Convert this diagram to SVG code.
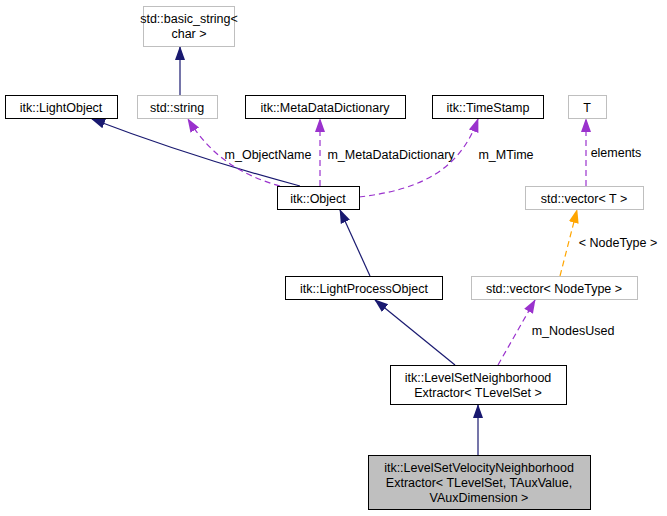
<svg xmlns="http://www.w3.org/2000/svg" width="667" height="516" viewBox="0 0 667 516">
<style>
text{font-family:"Liberation Sans",Arial,sans-serif;font-size:12.5px;fill:#000;text-anchor:middle}
.n{fill:#fff;stroke:#000;stroke-width:1}
.g{fill:#fff;stroke:#bfbfbf;stroke-width:1}
.s{fill:none;stroke:#191970;stroke-width:1.2}
.p{fill:none;stroke:#9a32cd;stroke-width:1.2;stroke-dasharray:6,4}
.o{fill:none;stroke:#ffa500;stroke-width:1.2;stroke-dasharray:6,4}
</style>
<defs>
<marker id="as" markerWidth="14" markerHeight="12" refX="13" refY="6" orient="auto" markerUnits="userSpaceOnUse"><path d="M0,1L14,6L0,11z" fill="#191970"/></marker>
<marker id="ap" markerWidth="14" markerHeight="12" refX="13" refY="6" orient="auto" markerUnits="userSpaceOnUse"><path d="M0,1L14,6L0,11z" fill="#9a32cd"/></marker>
<marker id="ao" markerWidth="14" markerHeight="12" refX="13" refY="6" orient="auto" markerUnits="userSpaceOnUse"><path d="M0,1L14,6L0,11z" fill="#ffa500"/></marker>
</defs>
<rect width="667" height="516" fill="#fff"/>
<g id="edges">
<path class="s" d="M180,95V47" marker-end="url(#as)"/>
<path class="s" d="M300,186C240,170 160,145 92,119" marker-end="url(#as)"/>
<path class="p" d="M280,186C240,175 210,155 188,119" marker-end="url(#ap)"/>
<text x="268" y="159">m_ObjectName</text>
<path class="p" d="M320,186V119" marker-end="url(#ap)"/>
<text x="391" y="159">m_MetaDataDictionary</text>
<path class="p" d="M359,197C420,190 460,170 478,119" marker-end="url(#ap)"/>
<text x="506" y="159">m_MTime</text>
<path class="p" d="M586,186V119" marker-end="url(#ap)"/>
<text x="616" y="157">elements</text>
<path class="o" d="M560,276L577,210" marker-end="url(#ao)"/>
<text x="618" y="247">&lt; NodeType &gt;</text>
<path class="s" d="M370,276L340,210" marker-end="url(#as)"/>
<path class="p" d="M498,365L535,300" marker-end="url(#ap)"/>
<text x="573" y="335">m_NodesUsed</text>
<path class="s" d="M455,365L375,300" marker-end="url(#as)"/>
<path class="s" d="M478,455V405" marker-end="url(#as)"/>
</g>
<g id="n_basic_string"><rect class="g" x="143.5" y="6.5" width="91" height="40"/><text x="189" y="23">std::basic_string&lt;</text><text x="189" y="38">char &gt;</text></g>
<g id="n_lightobject"><rect class="n" x="5.5" y="95.5" width="112" height="23"/><text x="61" y="111.5">itk::LightObject</text></g>
<g id="n_string"><rect class="g" x="137.5" y="95.5" width="80" height="23"/><text x="177" y="111.5">std::string</text></g>
<g id="n_mdd"><rect class="n" x="245.5" y="95.5" width="160" height="23"/><text x="325" y="111.5">itk::MetaDataDictionary</text></g>
<g id="n_ts"><rect class="n" x="432.5" y="95.5" width="111" height="23"/><text x="488" y="111.5">itk::TimeStamp</text></g>
<g id="n_T"><rect class="g" x="568.5" y="95.5" width="38" height="23"/><text x="587" y="111.5">T</text></g>
<g id="n_object"><rect class="n" x="277.5" y="186.5" width="82" height="23"/><text x="318" y="202.5">itk::Object</text></g>
<g id="n_vecT"><rect class="g" x="525.5" y="186.5" width="118" height="23"/><text x="584" y="202.5">std::vector&lt; T &gt;</text></g>
<g id="n_lpo"><rect class="n" x="285.5" y="276.5" width="157" height="23"/><text x="364" y="292.5">itk::LightProcessObject</text></g>
<g id="n_vecN"><rect class="g" x="471.5" y="276.5" width="166" height="23"/><text x="554" y="292.5">std::vector&lt; NodeType &gt;</text></g>
<g id="n_lsne"><rect class="n" x="390.5" y="365.5" width="176" height="39"/><text x="478" y="381.5">itk::LevelSetNeighborhood</text><text x="478" y="396.5">Extractor&lt; TLevelSet &gt;</text></g>
<g id="n_main"><rect x="368.5" y="455.5" width="222" height="54" fill="#bfbfbf" stroke="#000"/><text x="479" y="471.5">itk::LevelSetVelocityNeighborhood</text><text x="479" y="486.5">Extractor&lt; TLevelSet, TAuxValue,</text><text x="479" y="501.5">VAuxDimension &gt;</text></g>
</svg>
